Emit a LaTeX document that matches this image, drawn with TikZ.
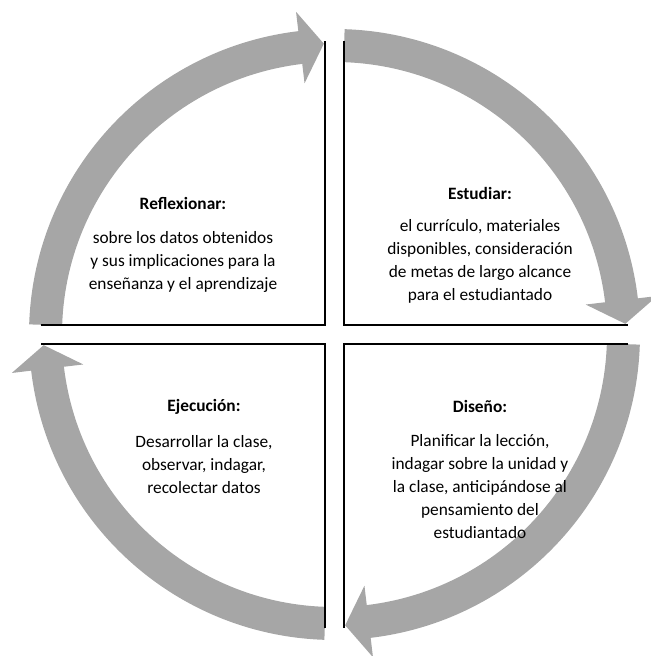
\documentclass[tikz,border=0pt]{standalone}
\usepackage{fontspec}
\setmainfont{Carlito}
\definecolor{arrowgray}{RGB}{166,166,166}
\tikzset{
  ringarrow/.style={fill=arrowgray, draw=none},
  quadline/.style={draw=black, line width=1.5pt, line cap=rect},
  qtitle/.style={font=\fontsize{13}{17.25}\selectfont\bfseries, align=center, inner sep=0pt},
  qbody/.style={font=\fontsize{13}{17.25}\selectfont, align=center, inner sep=0pt},
}
\newcommand{\ringarc}[3]{% start angle, base angle, tip angle
  \fill[ringarrow] (#1:305.5) arc[start angle=#1, end angle=#2, radius=305.5]
    -- (#2:325) -- (#3:291) -- (#2:253) -- (#2:272.5)
    arc[start angle=#2, end angle=#1, radius=272.5] -- cycle;}
\begin{document}
\begin{tikzpicture}[x=0.75pt,y=0.75pt]
\useasboundingbox (-334.5,-321.5) rectangle (315.5,334.5);
% ring arrows (clockwise)
\ringarc{88.1}{6.8}{2.1}
\ringarc{-1.9}{-83.2}{-87.9}
\ringarc{-91.9}{-173.2}{-177.9}
\ringarc{178.1}{96.8}{92.1}
% quadrant lines
\draw[quadline] (-292.5,9.5) -- (-9.5,9.5) -- (-9.5,292);
\draw[quadline] (9.5,292) -- (9.5,9.5) -- (292.5,9.5);
\draw[quadline] (292.5,-9.5) -- (9.5,-9.5) -- (9.5,-292.5);
\draw[quadline] (-9.5,-292.5) -- (-9.5,-9.5) -- (-292.5,-9.5);
% texts
\node[qtitle] (rt) at (-151.5,131.5) {Reflexionar:};
\node[qbody] (rb) at (-151.5,72.5) {sobre los datos obtenidos\\y sus implicaciones para la\\enseñanza y el aprendizaje};
\node[qtitle] (et) at (145.5,141.5) {Estudiar:};
\node[qbody] (eb) at (145.5,73) {el currículo, materiales\\disponibles, consideración\\de metas de largo alcance\\para el estudiantado};
\node[qtitle] (dt) at (145.5,-71.5) {Diseño:};
\node[qbody] (db) at (145.5,-152.5) {Planificar la lección,\\indagar sobre la unidad y\\la clase, anticipándose al\\pensamiento del\\estudiantado};
\node[qtitle] (jt) at (-130.5,-72.5) {Ejecución:};
\node[qbody] (jb) at (-130.5,-130.5) {Desarrollar la clase,\\observar, indagar,\\recolectar datos};
\end{tikzpicture}
\end{document}
